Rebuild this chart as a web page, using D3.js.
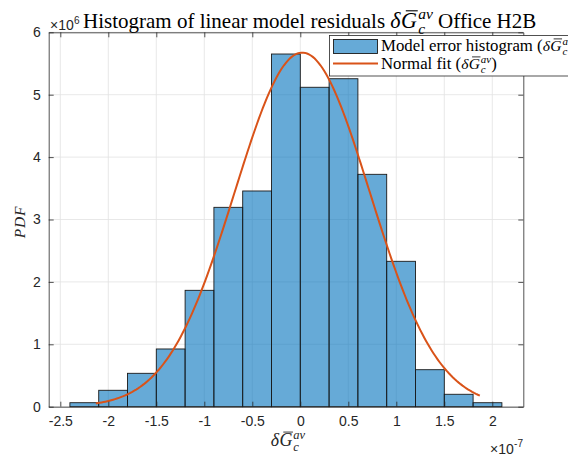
<!DOCTYPE html>
<html><head><meta charset="utf-8">
<script src="https://cdn.jsdelivr.net/npm/d3@7"></script>
<style>
html,body{margin:0;padding:0;background:#fff;}
text{white-space:pre;}
</style></head>
<body><svg id="c" width="568" height="458"></svg>
<script>
// ---- data (x in units of 1e-7, density in units of 1e6) ----
const binEdges = [-2.4,-2.1,-1.8,-1.5,-1.2,-0.9,-0.6,-0.3,0,0.3,0.6,0.9,1.2,1.5,1.8,2.1];
const binDensity = [0.064,0.263,0.535,0.925,1.865,3.195,3.457,5.652,5.119,5.256,3.724,2.33,0.593,0.199,0.064];
const xTicks = [-2.5,-2,-1.5,-1,-0.5,0,0.5,1,1.5,2];
const yTicks = [0,1,2,3,4,5,6];
const xDomain = [-2.621, 2.323];
const yDomain = [0, 6];
const fitMu = [0.02];
const fitSigma = [0.703];
const fitRange = [-2.13, 1.87];
const xExponent = "-7", yExponent = "6";
const titleText = ["Histogram of linear model residuals ", " Office H2B"];
const legendText = [["Model error histogram (", ")"], ["Normal fit (", ")"]];

const svg = d3.select('#c');
svg.append('rect').attr('width',568).attr('height',458).attr('fill','#fff');

const L=48.7, R=523.3, T=32.3, B=406.7;
const x = d3.scaleLinear().domain(xDomain).range([L,R]);
const y = d3.scaleLinear().domain(yDomain).range([B,T]);
const axCol = '#262626';
const sans = '"Liberation Sans", Arial, Helvetica, sans-serif';
const serif = '"Liberation Serif", "Times New Roman", serif';

// grid
const grid = svg.append('g');
xTicks.forEach(t=>grid.append('line').attr('x1',x(t)).attr('x2',x(t)).attr('y1',T).attr('y2',B)
  .attr('stroke','#e2e2e2').attr('stroke-width',0.8));
yTicks.forEach(t=>grid.append('line').attr('x1',L).attr('x2',R).attr('y1',y(t)).attr('y2',y(t))
  .attr('stroke','#e2e2e2').attr('stroke-width',0.8));

// bars
const bins = binDensity.map((v,i)=>({x0:binEdges[i], x1:binEdges[i+1], v}));
svg.append('g').selectAll('rect').data(bins).join('rect')
  .attr('x',d=>x(d.x0)).attr('y',d=>y(d.v))
  .attr('width',d=>x(d.x1)-x(d.x0)).attr('height',d=>y(0)-y(d.v))
  .attr('fill','#0072BD').attr('fill-opacity',0.6)
  .attr('stroke','#1a1a1a').attr('stroke-width',0.9);

// normal fit curve
const mu=fitMu[0], sg=fitSigma[0];
const pts = d3.range(0,201).map(i=>{
  const xv = fitRange[0] + (fitRange[1]-fitRange[0])*i/200;
  const pv = 10/(sg*Math.sqrt(2*Math.PI))*Math.exp(-0.5*((xv-mu)/sg)**2);
  return [xv,pv];
});
svg.append('path').datum(pts)
  .attr('d', d3.line().x(d=>x(d[0])).y(d=>y(d[1])))
  .attr('fill','none').attr('stroke','#D95319').attr('stroke-width',2);

// axes
function styleAxis(g){
  g.selectAll('path.domain').attr('stroke',axCol).attr('stroke-width',0.8);
  g.selectAll('.tick line').attr('stroke',axCol).attr('stroke-width',0.8);
  g.selectAll('text').attr('fill',axCol).style('font-family',sans).style('font-size','14px');
}
const fmt = d=>String(d);
svg.append('g').attr('transform',`translate(0,${B})`)
  .call(d3.axisBottom(x).tickValues(xTicks).tickFormat(fmt).tickSizeInner(-5).tickSizeOuter(0).tickPadding(9))
  .call(styleAxis);
svg.append('g').attr('transform',`translate(0,${T})`)
  .call(d3.axisTop(x).tickValues(xTicks).tickFormat('').tickSizeInner(-5).tickSizeOuter(0))
  .call(styleAxis);
svg.append('g').attr('transform',`translate(${L},0)`)
  .call(d3.axisLeft(y).tickValues(yTicks).tickFormat(fmt).tickSizeInner(-5).tickSizeOuter(0).tickPadding(8))
  .call(styleAxis);
svg.append('g').attr('transform',`translate(${R},0)`)
  .call(d3.axisRight(y).tickValues(yTicks).tickFormat('').tickSizeInner(-5).tickSizeOuter(0))
  .call(styleAxis);

// rich text: one <text> with positioned tspans
function layout(runs, size, family){
  const meas = svg.append('text').style('font-family',family).attr('visibility','hidden');
  let cx = 0, lastStart = 0;
  const placed = [];
  runs.forEach(r=>{
    const s = size*(r.scale||1);
    meas.style('font-size', s+'px').style('font-style', r.italic?'italic':'normal').text(r.text);
    const w = meas.node().getComputedTextLength();
    const sx = r.back ? lastStart : cx + (r.gap||0)*size;
    placed.push(Object.assign({}, r, {s, w, sx}));
    if(r.back) cx = Math.max(cx, sx + w + (r.after||0)*size);
    else { lastStart = sx; cx = sx + w + (r.after||0)*size; }
  });
  meas.remove();
  return {placed, width: cx};
}
function rich(parent, x0, y0, runs, size, family, color, anchor){
  const lay = layout(runs, size, family);
  if(anchor==='middle') x0 -= lay.width/2;
  if(anchor==='end') x0 -= lay.width;
  const t = parent.append('text').attr('fill',color).style('font-family',family).style('font-size',size+'px');
  lay.placed.forEach(p=>{
    t.append('tspan').attr('x',x0+p.sx).attr('y',y0+(p.dy||0)*size)
      .style('font-size',p.s+'px').style('font-style',p.italic?'italic':'normal').text(p.text);
    if(p.bar){
      parent.append('line').attr('x1',x0+p.sx+p.w*0.3).attr('x2',x0+p.sx+p.w*1.05)
        .attr('y1',y0-p.s*0.78).attr('y2',y0-p.s*0.78).attr('stroke',color).attr('stroke-width',Math.max(0.8,p.s*0.05));
    }
  });
  return lay.width;
}
function mathRuns(k){
  return [
    {text:'δ',italic:true,scale:1.05*k,after:0.02},
    {text:'G',italic:true,bar:true,scale:1.05*k,after:0.06*k},
    {text:'av',italic:true,scale:0.74*k,dy:-0.42*k},
    {text:'c',italic:true,scale:0.74*k,dy:0.3*k,back:true,after:0.05}
  ];
}

// title
rich(svg, 83, 28, [{text:titleText[0]}].concat(mathRuns(1)).concat([{text:titleText[1]}]), 21, serif, '#000', 'start');
// x label
rich(svg, 288, 446, mathRuns(1), 17, serif, '#262626', 'middle');
// y label
svg.append('text').attr('transform','translate(25,222) rotate(-90)').attr('text-anchor','middle')
  .style('font-family',serif).style('font-size','15.5px').style('font-style','italic')
  .style('letter-spacing','0.8px').attr('fill','#262626').text('PDF');

// exponent labels
function expo(xp, yp, e, anchor){
  const runs = [{text:'×10'},{text:e,scale:0.72,dy:-0.45,gap:0.02}];
  rich(svg, xp, yp, runs, 14, sans, axCol, anchor);
}
expo(50, 30, yExponent, 'start');
expo(523, 453.5, xExponent, 'end');

// legend
{
  const lg = svg.append('g');
  lg.append('rect').attr('x',329.5).attr('y',35.5).attr('width',300).attr('height',40.5)
    .attr('fill','#fff').attr('stroke',axCol).attr('stroke-width',0.8);
  lg.append('rect').attr('x',333.5).attr('y',39.5).attr('width',44).attr('height',14)
    .attr('fill','#0072BD').attr('fill-opacity',0.6).attr('stroke','#1a1a1a').attr('stroke-width',0.9);
  lg.append('line').attr('x1',333).attr('x2',378).attr('y1',63.5).attr('y2',63.5)
    .attr('stroke','#D95319').attr('stroke-width',2);
  rich(lg, 381, 51, [{text:legendText[0][0]}].concat(mathRuns(0.88)).concat([{text:legendText[0][1]}]), 16.8, serif, '#000', 'start');
  rich(lg, 381, 69, [{text:legendText[1][0]}].concat(mathRuns(0.88)).concat([{text:legendText[1][1]}]), 16.8, serif, '#000', 'start');
}
</script></body></html>
